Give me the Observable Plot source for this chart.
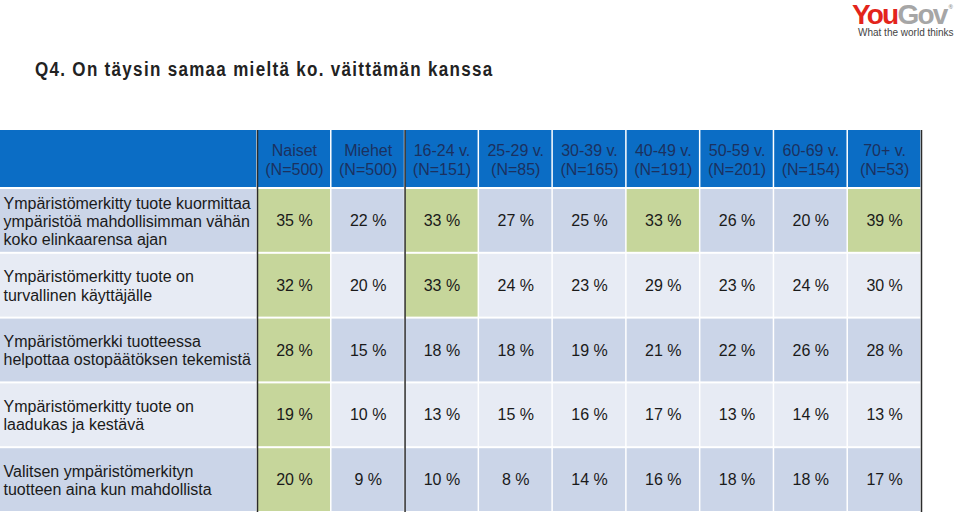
<!DOCTYPE html>
<html><head><meta charset="utf-8">
<script src="https://cdn.jsdelivr.net/npm/d3@7"></script>
<script src="https://cdn.jsdelivr.net/npm/@observablehq/plot@0.6"></script>
<style>
body{margin:0;background:#fff;font-family:"Liberation Sans",Arial,Helvetica,sans-serif;}
#wrap{position:relative;width:960px;height:516px;overflow:hidden}
#head{position:relative;height:130px}
#title{position:absolute;left:35px;top:58px;font-size:19.5px;line-height:22px;font-weight:bold;letter-spacing:1.5px;color:#222;white-space:nowrap;transform:scaleX(0.872);transform-origin:0 0}
#logo{position:absolute;left:852px;top:4px;font-size:28px;line-height:22px;font-weight:bold;letter-spacing:-1.8px;white-space:nowrap}
#logo .you{color:#e3241b}
#logo .gov{color:#a6a6a6}
#logo sup{font-size:6px;line-height:6px;letter-spacing:0;color:#999;vertical-align:top;position:relative;top:0px;left:2px}
#tag{position:absolute;left:858px;top:27px;font-size:10px;line-height:11px;color:#444;white-space:nowrap}
#chart svg{display:block}
</style></head>
<body>
<div id="wrap">
  <div id="head">
    <div id="logo"><span class="you">You</span><span class="gov">Gov</span><sup>®</sup></div>
    <div id="tag">What the world thinks</div>
    <div id="title">Q4. On täysin samaa mieltä ko. väittämän kanssa</div>
  </div>
  <div id="chart"></div>
</div>
<script>
// ---- data ----
const groups = [
  "Naiset\n(N=500)", "Miehet\n(N=500)", "16-24 v.\n(N=151)", "25-29 v.\n(N=85)",
  "30-39 v.\n(N=165)", "40-49 v.\n(N=191)", "50-59 v.\n(N=201)", "60-69 v.\n(N=154)", "70+ v.\n(N=53)"
];
const statements = [
  "Ympäristömerkitty tuote kuormittaa\nympäristöä mahdollisimman vähän\nkoko elinkaarensa ajan",
  "Ympäristömerkitty tuote on\nturvallinen käyttäjälle",
  "Ympäristömerkki tuotteessa\nhelpottaa ostopäätöksen tekemistä",
  "Ympäristömerkitty tuote on\nlaadukas ja kestävä",
  "Valitsen ympäristömerkityn\ntuotteen aina kun mahdollista"
];
const row1 = [35, 22, 33, 27, 25, 33, 26, 20, 39];
const row2 = [32, 20, 33, 24, 23, 29, 23, 24, 30];
const row3 = [28, 15, 18, 18, 19, 21, 22, 26, 28];
const row4 = [19, 10, 13, 15, 16, 17, 13, 14, 13];
const row5 = [20, 9, 10, 8, 14, 16, 18, 18, 17];
const values = [row1, row2, row3, row4, row5];
// highlighted (green) cells, by group index, per statement
const highlighted = [[0, 2, 5, 8], [0, 2], [0], [0], [0]];
// group boundaries drawn as dark separators (before Naiset, before 16-24, after 70+)
const separators = [0, 2, 9];

// ---- layout ----
const W = 960, tableRight = 921, labelW = 257;
const nCols = groups.length;
const colW = (tableRight - labelW) / nCols;
const L = labelW / colW;               // label column width in column units
const headerH = 58 / 64.8;             // header row height in row units

const blue = "#0b6dc5", dark = "#cbd5e8", light = "#e7ebf4", green = "#c6d69b";

const cells = [];
values.forEach((row, r) => row.forEach((v, c) => cells.push({
  r, c, v, hi: highlighted[r].includes(c)
})));
const labelRows = statements.map((s, r) => ({r, s}));
const headers = groups.map((g, c) => ({c, g}));

const rowFill = r => (r % 2 === 0 ? dark : light);

const chart = Plot.plot({
  width: W,
  height: 386,
  marginTop: 0,
  marginBottom: 4,
  marginLeft: 0,
  marginRight: W - tableRight,
  x: {type: "linear", domain: [-L, nCols], axis: null},
  y: {type: "linear", domain: [-headerH, statements.length], reverse: true, axis: null},
  style: {fontFamily: '"Liberation Sans", Arial, Helvetica, sans-serif', background: "white"},
  marks: [
    // header background
    Plot.rect([{}], {x1: -L, x2: 0, y1: -headerH, y2: 0, fill: blue, insetRight: 0.75, insetBottom: 1}),
    Plot.rect(headers, {x1: d => d.c, x2: d => d.c + 1, y1: -headerH, y2: 0, fill: blue, insetLeft: 0.75, insetRight: 0.75, insetBottom: 1}),
    Plot.text(headers, {x: d => d.c + 0.5, y: -headerH / 2, text: "g", fill: "#1b3160", fontSize: 16, lineHeight: 1.15}),
    // label column
    Plot.rect(labelRows, {x1: -L, x2: 0, y1: "r", y2: d => d.r + 1, fill: d => rowFill(d.r), insetTop: 1, insetBottom: 1, insetRight: 0.75}),
    Plot.text(labelRows, {x: -L, y: d => d.r + 0.5, text: "s", dx: 3, textAnchor: "start", fill: "#1a1a1a", fontSize: 16, lineHeight: 1.13}),
    // data cells
    Plot.rect(cells, {x1: "c", x2: d => d.c + 1, y1: "r", y2: d => d.r + 1,
      fill: d => d.hi ? green : rowFill(d.r), insetTop: 1, insetBottom: 1, insetLeft: 0.75, insetRight: 0.75}),
    Plot.text(cells, {x: d => d.c + 0.5, y: d => d.r + 0.5, text: d => `${d.v} %`, fill: "#1a1a1a", fontSize: 16}),
    // separators
    Plot.ruleX(separators, {y1: -headerH, y2: statements.length, stroke: "#2b2b2b", strokeWidth: 1.5})
  ]
});
document.getElementById("chart").append(chart);
</script>
</body></html>
